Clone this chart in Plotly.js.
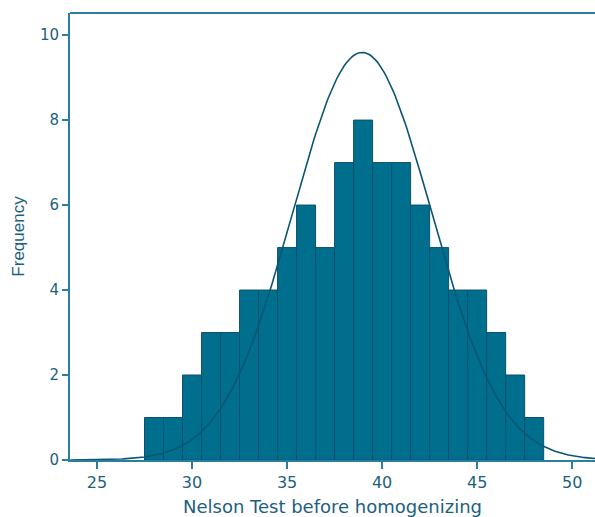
<!DOCTYPE html>
<html>
<head>
<meta charset="utf-8">
<script src="https://cdn.plot.ly/plotly-3.0.1.min.js"></script>
<style>html,body{margin:0;padding:0;background:#fff;}#chart{width:595px;height:517px;}</style>
</head>
<body>
<div id="chart"></div>
<script>
// Histogram bin centers (bin width 1) and counts
const binCenters = [28, 29, 30, 31, 32, 33, 34, 35, 36, 37, 38, 39, 40, 41, 42, 43, 44, 45, 46, 47, 48];
const counts     = [1, 1, 2, 3, 3, 4, 4, 5, 6, 5, 7, 8, 7, 7, 6, 5, 4, 4, 3, 2, 1];
// Fitted normal curve parameters
const fitMean = 38.95;
const fitSD = 3.66;
const binWidth = 1;
const xTicks = [25, 30, 35, 40, 45, 50];
const yTicks = [0, 2, 4, 6, 8, 10];

const N = counts.reduce((a, b) => a + b, 0);
const curveX = [], curveY = [];
for (let x = 23.6; x <= 51.3; x += 0.1) {
  curveX.push(x);
  curveY.push(N * binWidth / (fitSD * Math.sqrt(2 * Math.PI)) * Math.exp(-Math.pow(x - fitMean, 2) / (2 * fitSD * fitSD)));
}

const txtColor = '#1d5f80';
const axColor = '#2a7f9e';
const mainFont = 'DejaVu Sans, Verdana, sans-serif';

const data = [
  {
    type: 'bar', x: binCenters, y: counts, width: binWidth,
    marker: {color: '#006f8e', line: {color: '#0d4f6e', width: 1}},
    hoverinfo: 'x+y'
  },
  {
    type: 'scatter', mode: 'lines', x: curveX, y: curveY,
    line: {color: '#0b5577', width: 1.6}, hoverinfo: 'skip'
  }
];

const layout = {
  width: 595, height: 517,
  margin: {l: 70, r: 0, t: 13, b: 57},
  paper_bgcolor: '#fff', plot_bgcolor: '#fff',
  showlegend: false,
  bargap: 0,
  font: {family: mainFont, color: txtColor, size: 16},
  xaxis: {
    range: [23.58, 51.2], tickvals: xTicks, ticktext: xTicks.map(String),
    showgrid: false, zeroline: false, showline: true, linecolor: axColor, linewidth: 2,
    ticks: 'outside', ticklen: 7, tickwidth: 2, tickcolor: axColor,
    tickfont: {size: 16, color: txtColor, family: mainFont},
    title: {text: 'Nelson Test before homogenizing', font: {size: 18, color: txtColor, family: mainFont}, standoff: 14}
  },
  yaxis: {
    range: [0, 10.52], tickvals: yTicks, ticktext: yTicks.map(String),
    showgrid: false, zeroline: false, showline: true, linecolor: axColor, linewidth: 2,
    ticks: 'outside', ticklen: 6, tickwidth: 2, tickcolor: axColor,
    tickfont: {size: 15, color: txtColor, family: mainFont},
    title: {text: 'Frequency', font: {size: 17, color: txtColor, family: 'Liberation Sans Narrow, Arial Narrow, sans-serif'}, standoff: 11}
  },
  shapes: [
    {type: 'line', xref: 'paper', yref: 'paper', x0: 0, x1: 1, y0: 1, y1: 1, line: {color: axColor, width: 2}}
  ]
};

Plotly.newPlot('chart', data, layout, {displayModeBar: false, staticPlot: true});
</script>
</body>
</html>
